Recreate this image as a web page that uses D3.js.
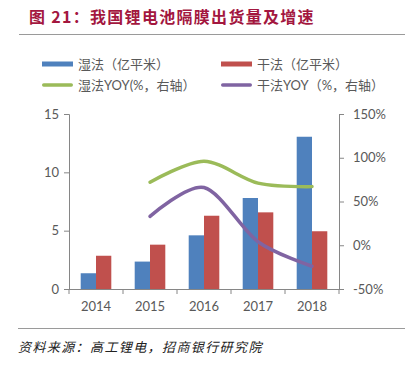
<!DOCTYPE html>
<html lang="zh">
<head>
<meta charset="UTF-8">
<title>图 21</title>
<script src="https://d3js.org/d3.v7.min.js"></script>
<style>
  body { margin: 0; background: #fff; }
  svg text { font-family: Lato, "Noto Sans CJK SC", sans-serif; }
  .cjk { font-family: "Noto Sans CJK SC", sans-serif; }
</style>
</head>
<body>
<div id="chart"></div>
<script>
// datos
var years = ["2014", "2015", "2016", "2017", "2018"];
var wet = [1.35, 2.35, 4.6, 7.8, 13.05];
var dry = [2.85, 3.8, 6.28, 6.57, 4.95];
var wetYoy = [null, 72, 96, 71, 67];
var dryYoy = [null, 33, 66, 4, -24];
var leftTicks = [0, 5, 10, 15];
var rightTicks = [-50, 0, 50, 100, 150];

var W = 412, H = 366;
var x0 = 69, x1 = 339, yTop = 114, yBot = 289;

var svg = d3.select("#chart").append("svg")
    .attr("width", W).attr("height", H);

// titulo
svg.append("text").attr("class", "cjk")
    .attr("x", 29).attr("y", 23)
    .attr("fill", "#a3173f").attr("font-size", 16).attr("font-weight", "bold")
    .attr("letter-spacing", 1.3)
    .text("图 21：我国锂电池隔膜出货量及增速");
svg.append("line").attr("x1", 19).attr("x2", 405).attr("y1", 34.5).attr("y2", 34.5)
    .attr("stroke", "#9a9a9a").attr("stroke-width", 1);
svg.append("line").attr("x1", 18).attr("x2", 405).attr("y1", 328.5).attr("y2", 328.5)
    .attr("stroke", "#9a9a9a").attr("stroke-width", 1);
svg.append("text").attr("class", "cjk")
    .attr("x", 18).attr("y", 352)
    .attr("fill", "#222").attr("font-size", 13).attr("font-style", "italic")
    .attr("letter-spacing", 1.4)
    .text("资料来源：高工锂电，招商银行研究院");

// escalas
var x = d3.scaleBand().domain(years).range([x0, x1]);
var xs = d3.scaleBand().domain(["wet", "dry"]).range([0, 30.6]);
var yL = d3.scaleLinear().domain([0, 15]).range([yBot, yTop]);
var yR = d3.scaleLinear().domain([-50, 150]).range([yBot, yTop]);

// ejes
var gL = svg.append("g").attr("transform", "translate(" + x0 + ",0)")
    .call(d3.axisLeft(yL).tickValues(leftTicks).tickSize(5).tickPadding(5));
var gR = svg.append("g").attr("transform", "translate(" + x1 + ",0)")
    .call(d3.axisRight(yR).tickValues(rightTicks).tickSize(5).tickPadding(9)
        .tickFormat(function(d) { return d + "%"; }));
var gX = svg.append("g").attr("transform", "translate(0," + yBot + ")")
    .call(d3.axisBottom(x).tickSize(0).tickPadding(13));
// marcas entre categorias
gX.selectAll(".sep").data(d3.range(years.length + 1)).enter().append("line")
    .attr("x1", function(i) { return x0 + i * x.bandwidth(); })
    .attr("x2", function(i) { return x0 + i * x.bandwidth(); })
    .attr("y1", 0).attr("y2", 5).attr("stroke", "#868686");

[gL, gR, gX].forEach(function(g) {
  g.select(".domain").attr("stroke", "#868686");
  g.selectAll(".tick line").attr("stroke", "#868686");
  g.selectAll("text").attr("fill", "#595959").attr("font-size", 13);
});
gX.select(".domain").attr("d", "M" + x0 + ",0.5H" + x1);

// barras
var grp = svg.append("g");
years.forEach(function(yr, i) {
  var off = x(yr) + (x.bandwidth() - 30.6) / 2;
  grp.append("rect").attr("x", off + xs("wet")).attr("width", xs.bandwidth())
      .attr("y", yL(wet[i])).attr("height", yBot - yL(wet[i]))
      .attr("fill", "#4f81bd");
  grp.append("rect").attr("x", off + xs("dry")).attr("width", xs.bandwidth())
      .attr("y", yL(dry[i])).attr("height", yBot - yL(dry[i]))
      .attr("fill", "#c0504d");
});

// lineas
var line = d3.line()
    .defined(function(d) { return d.v != null; })
    .x(function(d) { return x(d.y) + x.bandwidth() / 2; })
    .y(function(d) { return yR(d.v); })
    .curve(d3.curveCardinal.tension(0.1));
function series(arr) { return years.map(function(y, i) { return { y: y, v: arr[i] }; }).filter(function(d) { return d.v != null; }); }
svg.append("path").datum(series(wetYoy)).attr("d", line)
    .attr("fill", "none").attr("stroke", "#9bbb59").attr("stroke-width", 3.5).attr("stroke-linecap", "round");
svg.append("path").datum(series(dryYoy)).attr("d", line)
    .attr("fill", "none").attr("stroke", "#8064a2").attr("stroke-width", 3.5).attr("stroke-linecap", "round");

// leyenda
var legend = [
  { t: "湿法（亿平米）", c: "#4f81bd", bar: true, x: 42, y: 64 },
  { t: "干法（亿平米）", c: "#c0504d", bar: true, x: 221, y: 64 },
  { t: "湿法YOY(%，右轴）", c: "#9bbb59", bar: false, x: 42, y: 85 },
  { t: "干法YOY（%，右轴）", c: "#8064a2", bar: false, x: 221, y: 85 }
];
var lg = svg.selectAll(".lg").data(legend).enter().append("g")
    .attr("transform", function(d) { return "translate(" + d.x + "," + d.y + ")"; });
lg.append("rect").attr("x", 0).attr("width", 31)
    .attr("y", function(d) { return d.bar ? -2.5 : -1.7; })
    .attr("height", function(d) { return d.bar ? 5 : 3.4; })
    .attr("rx", function(d) { return d.bar ? 0 : 1.7; })
    .attr("fill", function(d) { return d.c; });
lg.append("text").attr("x", 36).attr("y", 4.5)
    .attr("font-size", 13).attr("fill", "#595959")
    .attr("font-family", "'Noto Sans CJK SC', sans-serif")
    .text(function(d) { return d.t; });
</script>
</body>
</html>
